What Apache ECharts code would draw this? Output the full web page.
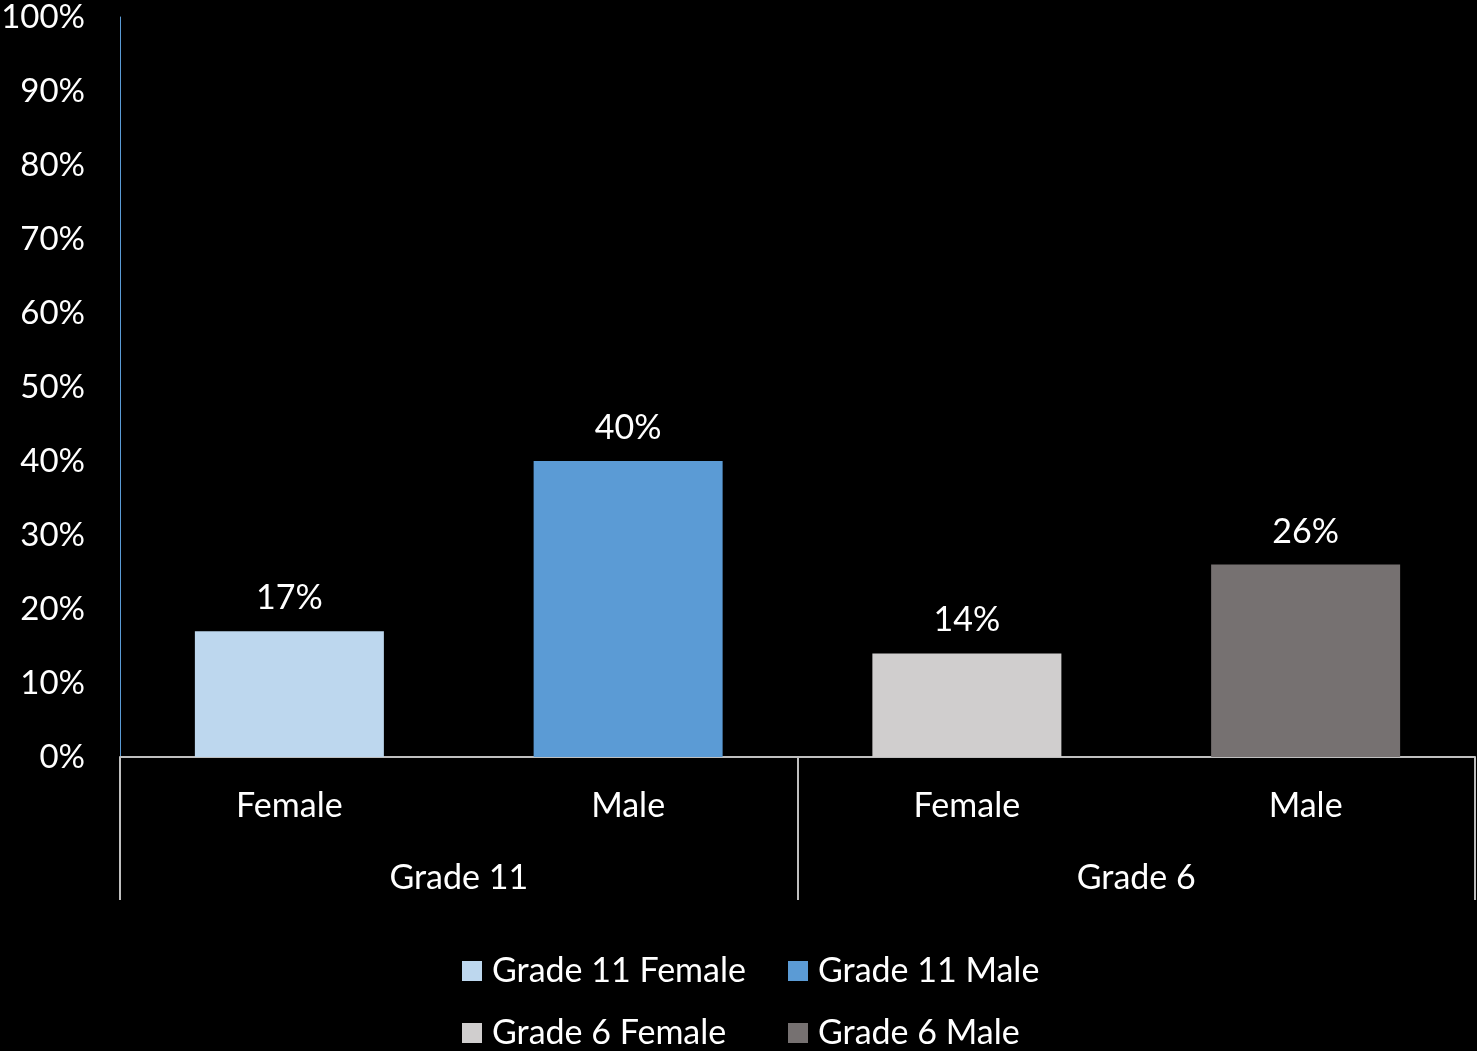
<!DOCTYPE html>
<html>
<head>
<meta charset="utf-8">
<script src="https://cdn.jsdelivr.net/npm/echarts@6/dist/echarts.min.js"></script>
<style>
html, body { margin: 0; padding: 0; background: #000; }
#chart { width: 1477px; height: 1051px; }
</style>
</head>
<body>
<div id="chart"></div>
<script>
// 数据
let genders = ["Female", "Male", "Female", "Male"];
let grades = ["Grade 11", "Grade 6"];
let seriesNames = ["Grade 11 Female", "Grade 11 Male", "Grade 6 Female", "Grade 6 Male"];
let values = [17, 40, 14, 26];
let colors = ["#BDD7EE", "#5B9BD5", "#D0CECE", "#767171"];

let font = "Lato";
let fontSize = 34;

// 每个系列只占自己的那一格，堆叠后居中
let series = seriesNames.map(function (name, i) {
    return {
        name: name,
        type: "bar",
        stack: "all",
        barWidth: 189,
        itemStyle: { color: colors[i] },
        label: {
            show: true,
            position: "top",
            distance: 16,
            color: "#fff",
            fontFamily: font,
            fontSize: fontSize,
            formatter: "{c}%"
        },
        data: genders.map(function (g, j) { return j === i ? values[i] : "-"; })
    };
});

let myChart = echarts.init(document.getElementById("chart"));
let option = {
    backgroundColor: "#000",
    animation: false,
    grid: { left: 120, right: 2, top: 17, bottom: 294, outerBoundsMode: "none" },
    legend: {
        data: seriesNames,
        left: 462,
        top: 945,
        width: 660,
        padding: 0,
        icon: "rect",
        itemWidth: 20,
        itemHeight: 20,
        itemGap: 10,
        textStyle: {
            color: "#fff",
            fontFamily: font,
            fontSize: fontSize,
            lineHeight: 52,
            width: 286,
            padding: [0, 0, 0, 5]
        }
    },
    xAxis: [
        {
            // 性别
            type: "category",
            data: genders,
            position: "bottom",
            axisLine: { show: true, lineStyle: { color: "#BFBFBF", width: 2 } },
            axisTick: { show: false },
            axisLabel: { color: "#fff", fontFamily: font, fontSize: fontSize, margin: 32 }
        },
        {
            // 年级
            type: "category",
            data: grades,
            position: "bottom",
            axisLine: { show: false },
            axisTick: { show: true, length: 143, lineStyle: { color: "#BFBFBF", width: 2 } },
            axisLabel: { color: "#fff", fontFamily: font, fontSize: fontSize, margin: 104 }
        }
    ],
    yAxis: {
        type: "value",
        min: 0,
        max: 100,
        interval: 10,
        axisLine: { show: true, lineStyle: { color: "#5B9BD5", width: 1 } },
        axisTick: { show: false },
        splitLine: { show: false },
        axisLabel: { color: "#fff", fontFamily: font, fontSize: 33, margin: 35, formatter: "{value}%" }
    },
    series: series
};
myChart.setOption(option);
</script>
</body>
</html>
